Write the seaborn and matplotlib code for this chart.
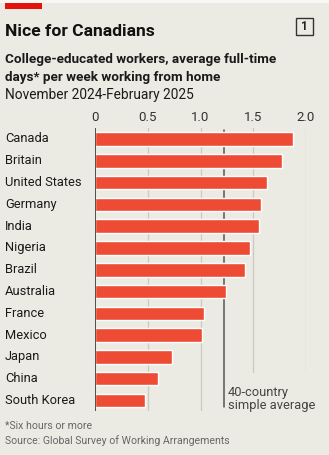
import matplotlib
matplotlib.use("Agg")
import matplotlib.pyplot as plt
import seaborn as sns
import pandas as pd
from matplotlib.patches import Rectangle

countries = ["Canada", "Britain", "United States", "Germany", "India", "Nigeria",
             "Brazil", "Australia", "France", "Mexico", "Japan", "China", "South Korea"]
days = [1.88, 1.77, 1.63, 1.57, 1.55, 1.47, 1.42, 1.24, 1.03, 1.01, 0.73, 0.60, 0.47]
average = 1.22
xticks = [0, 0.5, 1.0, 1.5, 2.0]
xtick_labels = ["0", "0.5", "1.0", "1.5", "2.0"]

df = pd.DataFrame({"country": countries, "days": days})

BG = "#ECEBE3"
RED = "#EE4B35"
W, H = 329, 455

sns.set_theme(style="white")
plt.rcParams["font.family"] = ["Roboto", "DejaVu Sans"]

fig = plt.figure(figsize=(W / 100, H / 100), dpi=100)
fig.patch.set_facecolor(BG)

def fx(px):
    return px / W

def fy(py):
    return 1 - py / H

ax_left, ax_right = 95, 306
ax_top, ax_bottom = 128.1, 411.4
ax = fig.add_axes([fx(ax_left), fy(ax_bottom), (ax_right - ax_left) / W, (ax_bottom - ax_top) / H])
ax.set_facecolor(BG)

sns.barplot(data=df, x="days", y="country", orient="h", color=RED, width=0.62,
            saturation=1, ax=ax, zorder=3)

ax.set_xlim(0, 2.0)
ax.set_ylim(len(countries) - 0.5, -0.5)
for s in ax.spines.values():
    s.set_visible(False)
ax.set_xlabel("")
ax.set_ylabel("")

# gridlines
for t in xticks[1:]:
    ymin = 0.139 if t >= 1.5 else 0.0
    ax.axvline(t, ymin=ymin, ymax=1, color="#CBCAC2", lw=0.9, zorder=1)
ax.axvline(0, color="#333333", lw=1.2, zorder=4)
ax.axvline(average, ymin=0.015, ymax=0.995, color="#555555", lw=1.1, zorder=2)

ax.xaxis.tick_top()
ax.set_xticks(xticks)
ax.set_xticklabels(xtick_labels, fontsize=9.5, color="#333333")
ax.tick_params(axis="x", length=0, pad=3)
ax.tick_params(axis="y", length=0)
ax.set_yticks(range(len(countries)))
ax.set_yticklabels([])
px_per_unit = (ax_right - ax_left) / 2.0
label_x = -(ax_left - 5) / px_per_unit
for i, c in enumerate(countries):
    ax.text(label_x, i, c, ha="left", va="center", fontsize=9.3, color="#1a1a1a",
            transform=ax.transData, clip_on=False)

ax.text(average + 0.04, len(countries) - 0.45, "40-country\nsimple average",
        ha="left", va="bottom", fontsize=9.3, color="#444444", linespacing=1.05,
        clip_on=False)

# header decorations
fig.patches.append(Rectangle((0, fy(3)), 1, 3 / H, transform=fig.transFigure,
                             facecolor="#F7F7F4", edgecolor="none"))
fig.patches.append(Rectangle((fx(5), fy(9)), 37 / W, 6 / H, transform=fig.transFigure,
                             facecolor="#E3120B", edgecolor="none"))
fig.patches.append(Rectangle((fx(295.5), fy(35)), 17 / W, 17 / H, transform=fig.transFigure,
                             facecolor="none", edgecolor="#333333", lw=1))
fig.text(fx(304), fy(26.5), "1", ha="center", va="center", fontsize=8.5,
         fontweight="bold", color="#222222")

fig.text(fx(5), fy(36), "Nice for Canadians", ha="left", va="baseline",
         fontsize=12.6, fontweight="bold", color="#111111")
fig.text(fx(5), fy(63), "College-educated workers, average full-time", ha="left",
         va="baseline", fontsize=9.7, fontweight="bold", color="#1a1a1a")
fig.text(fx(5), fy(81), "days* per week working from home", ha="left",
         va="baseline", fontsize=9.7, fontweight="bold", color="#1a1a1a")
fig.text(fx(5), fy(99.5), "November 2024-February 2025", ha="left",
         va="baseline", fontsize=9.95, color="#1a1a1a")

fig.text(fx(5), fy(429), "*Six hours or more", ha="left", va="baseline",
         fontsize=7.6, color="#666666")
fig.text(fx(5), fy(444.5), "Source: Global Survey of Working Arrangements", ha="left",
         va="baseline", fontsize=7.6, color="#666666")

fig.savefig("out.png", dpi=100, facecolor=BG)
